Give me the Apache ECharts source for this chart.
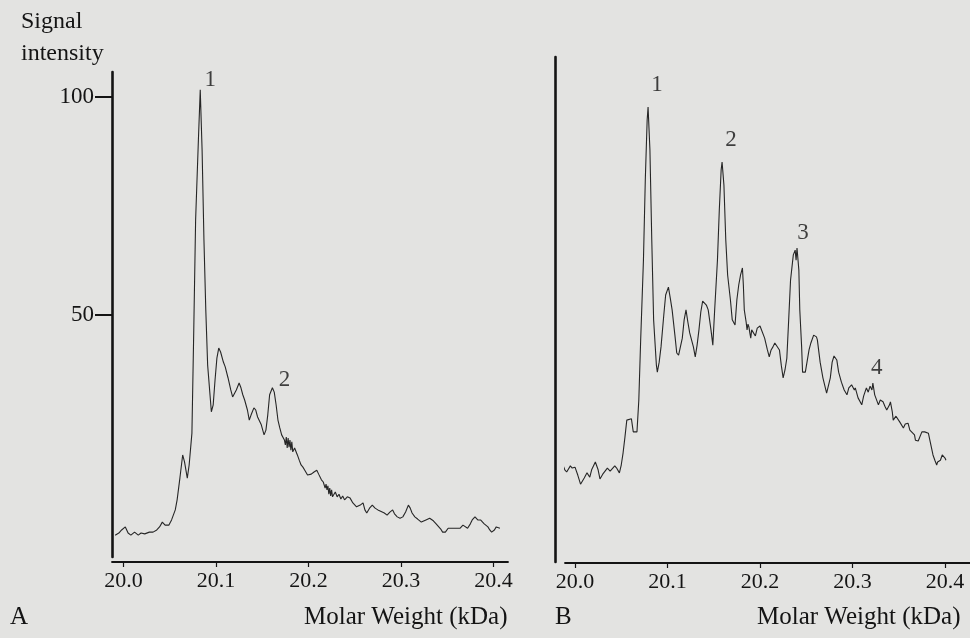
<!DOCTYPE html>
<html>
<head>
<meta charset="utf-8">
<script src="https://cdn.jsdelivr.net/npm/echarts@6/dist/echarts.min.js"></script>
<style>
html,body{margin:0;padding:0;background:#e3e3e1;}
#chart{width:970px;height:638px;}
</style>
</head>
<body>
<div id="chart"></div>
<script>
// ---------- Data ----------
const xTicks = [20.0, 20.1, 20.2, 20.3, 20.4];
const yTicksA = [50, 100];

// Panel A: molar weight (kDa) and signal intensity
const aX = [19.991,19.995,19.998,20.002,20.005,20.008,20.012,20.016,20.019,20.023,20.028,20.032,20.036,20.039,20.042,20.045,20.049,20.052,20.056,20.058,
20.061,20.064,20.066,20.069,20.071,20.074,20.076,20.078,20.081,20.083,20.085,20.087,20.089,20.091,20.094,20.095,20.097,20.099,20.101,20.103,
20.105,20.108,20.110,20.113,20.116,20.118,20.122,20.125,20.127,20.129,20.131,20.134,20.136,20.138,20.141,20.143,20.145,20.149,20.152,20.154,
20.156,20.158,20.161,20.163,20.165,20.167,20.169,20.171,20.174,20.175,20.176,20.177,20.178,20.179,20.180,20.181,20.182,20.183,20.185,20.188,
20.190,20.192,20.194,20.196,20.199,20.203,20.206,20.209,20.211,20.214,20.216,20.218,20.219,20.220,20.221,20.222,20.223,20.224,20.225,20.226,
20.229,20.231,20.233,20.235,20.237,20.239,20.242,20.245,20.248,20.250,20.252,20.256,20.259,20.261,20.263,20.266,20.269,20.272,20.275,20.278,
20.282,20.285,20.288,20.291,20.293,20.296,20.299,20.302,20.305,20.308,20.310,20.312,20.315,20.318,20.322,20.324,20.327,20.329,20.331,20.335,
20.338,20.340,20.343,20.345,20.348,20.351,20.355,20.359,20.364,20.366,20.367,20.369,20.372,20.375,20.377,20.380,20.383,20.386,20.390,20.392,
20.394,20.396,20.398,20.401,20.403,20.405,20.407];
const aY = [-0.5,0,0.7,1.4,0,-0.5,0.2,-0.5,0,-0.2,0.2,0.2,0.7,1.4,2.5,1.8,1.8,3.0,5.3,7.6,
12.6,17.9,16.3,12.6,15.6,22.9,46.6,71.8,90.1,101.6,87.8,67.2,51.1,38.5,30.5,27.8,29.4,35.1,40.1,42.4,
41.5,39.2,38.1,35.6,32.8,31.2,32.8,34.4,33.3,31.7,30.5,28.2,25.9,27.1,28.7,28.2,26.6,24.8,22.5,23.6,
27.1,31.7,33.3,32.3,29.4,25.9,24.1,22.5,21.3,20.2,22.0,19.5,21.8,19.7,21.3,19.0,20.9,18.6,19.5,17.9,
16.7,15.6,15.1,14.4,13.3,13.5,14.0,14.4,13.5,12.2,11.7,10.3,11.2,9.9,10.8,8.9,10.3,8.5,9.9,8.3,
9.4,8.3,8.9,7.8,8.5,7.6,8.3,8.0,6.9,7.1,6.0,6.4,6.9,5.3,4.6,5.7,6.4,5.7,5.3,5.0,
4.6,4.1,4.8,5.3,4.4,3.7,3.4,3.7,4.8,6.4,5.7,4.6,3.7,3.2,2.5,2.3,3.0,3.4,3.4,2.8,
2.1,1.8,0.9,0.2,0.2,1.1,1.1,1.1,1.1,1.1,1.8,1.4,1.1,2.1,3.0,3.7,3.0,3.0,2.1,1.8,
1.4,0.7,0.2,0.7,1.4,1.8,1.1];

// Panel B
const bX = [19.986,19.989,19.991,19.995,19.997,20.000,20.003,20.006,20.010,20.013,20.016,20.018,20.022,20.025,20.027,20.030,20.035,20.038,20.040,20.043,
20.045,20.048,20.050,20.052,20.054,20.056,20.061,20.063,20.067,20.069,20.071,20.074,20.076,20.078,20.079,20.081,20.083,20.085,20.088,20.089,
20.091,20.093,20.096,20.098,20.101,20.103,20.105,20.108,20.110,20.112,20.116,20.118,20.120,20.122,20.124,20.128,20.130,20.132,20.134,20.136,
20.138,20.142,20.144,20.147,20.149,20.151,20.154,20.156,20.158,20.159,20.161,20.163,20.165,20.168,20.170,20.173,20.175,20.177,20.179,20.181,
20.182,20.183,20.185,20.186,20.187,20.188,20.189,20.190,20.191,20.192,20.195,20.196,20.197,20.198,20.200,20.202,20.205,20.208,20.210,20.212,
20.214,20.216,20.218,20.221,20.223,20.225,20.227,20.229,20.231,20.233,20.236,20.238,20.239,20.240,20.242,20.243,20.245,20.246,20.249,20.251,
20.253,20.255,20.258,20.261,20.262,20.265,20.268,20.272,20.276,20.278,20.280,20.283,20.285,20.288,20.291,20.294,20.296,20.298,20.299,20.302,
20.303,20.306,20.310,20.312,20.315,20.317,20.319,20.321,20.322,20.324,20.328,20.330,20.333,20.335,20.337,20.340,20.341,20.343,20.344,20.347,
20.349,20.351,20.355,20.357,20.360,20.362,20.364,20.367,20.368,20.371,20.373,20.375,20.376,20.378,20.382,20.384,20.387,20.389,20.391,20.392,
20.395,20.397,20.398,20.400,20.401];
const bY = [16.1,14.5,14.0,15.4,14.9,15.1,13.3,11.2,12.6,13.8,12.8,14.5,16.3,14.5,12.4,13.5,14.9,14.2,14.0,15.4,
14.9,13.8,15.6,18.4,22.0,25.9,26.2,23.2,23.2,30.5,44.3,62.6,81.0,94.7,97.7,87.9,67.2,48.9,38.5,36.9,
39.2,42.7,50.0,54.6,56.4,53.9,51.2,45.4,41.3,40.8,44.7,48.9,51.2,48.4,45.9,42.7,40.4,43.1,46.6,50.7,
53.2,52.3,51.2,46.6,43.1,51.2,62.6,74.1,83.3,85.1,79.8,67.2,59.2,53.5,48.9,47.7,53.5,56.9,59.2,60.8,
56.9,51.2,48.4,46.6,47.9,47.3,45.9,44.7,46.6,46.6,45.2,45.0,47.0,46.6,47.5,47.7,44.7,42.0,40.4,42.0,
42.7,43.6,43.8,42.0,38.5,35.6,37.4,40.1,48.9,58.0,63.8,64.9,62.6,65.4,60.3,51.2,42.7,36.9,36.9,36.9,
42.0,43.6,45.4,45.0,44.3,39.2,35.6,32.1,35.6,39.2,40.6,39.7,36.9,34.6,32.8,31.7,33.3,33.5,34.0,32.8,
33.3,31.0,29.4,31.4,33.3,32.3,33.7,32.8,34.4,31.7,29.4,30.5,30.1,29.1,28.2,29.4,30.1,27.8,25.9,26.8,
27.1,25.5,24.1,25.0,25.2,23.6,23.2,22.5,21.3,21.1,21.1,23.2,23.6,23.2,22.9,20.9,17.9,16.7,15.6,16.3,
16.7,17.9,17.9,17.2,16.7];

// Peak labels
const peakNamesA = ['1', '2'];
const peakXA = [20.083, 20.161];
const peakYA = [101.6, 33.3];
const peakNamesB = ['1', '2', '3', '4'];
const peakXB = [20.079, 20.159, 20.240, 20.322];
const peakYB = [97.7, 85.1, 65.4, 34.4];

// ---------- Chart ----------
const FONT = '"Liberation Serif", "Times New Roman", serif';
const INK = '#141414';
const zip = (xs, ys) => xs.map((x, i) => [x, ys[i]]);

const offA = [[10, -10], [12, -8]];
const offB = [[9, -22], [9, -22], [6, -15], [4, -15]];
const labelData = (names, xs, ys, offs) => names.map((n, i) => ({
  name: n, value: [xs[i], ys[i]],
  label: { offset: offs[i] }
}));

const xAxisBase = (gi, min, max, offset) => ({
  gridIndex: gi, type: 'value', min: min, max: max, offset: offset,
  axisLine: { show: true, onZero: false, lineStyle: { color: INK, width: 1.8 } },
  axisTick: { show: true, length: 5, customValues: xTicks, lineStyle: { color: INK, width: 1.2 } },
  axisLabel: { show: true, customValues: xTicks, margin: 8, fontFamily: FONT, fontSize: 22, color: INK,
    formatter: v => v.toFixed(1) },
  splitLine: { show: false }
});

const chart = echarts.init(document.getElementById('chart'), null, { renderer: 'canvas' });
chart.setOption({
  backgroundColor: '#e3e3e1',
  animation: false,
  grid: [
    { left: 112, top: 72, width: 396, height: 485 },
    { left: 565, top: 57, width: 405, height: 505 }
  ],
  xAxis: [
    xAxisBase(0, 19.9876, 20.4157, 5),
    xAxisBase(1, 19.9892, 20.4270, 1)
  ],
  yAxis: [
    { gridIndex: 0, type: 'value', min: -5.5, max: 105.7,
      axisLine: { show: true, onZero: false, lineStyle: { color: INK, width: 2.6 } },
      axisTick: { show: true, length: 17, customValues: yTicksA, lineStyle: { color: INK, width: 2 } },
      axisLabel: { show: true, customValues: yTicksA, margin: 18, fontFamily: FONT, fontSize: 23, color: INK },
      splitLine: { show: false } },
    { gridIndex: 1, type: 'value', min: -6.65, max: 109.2, offset: 10,
      axisLine: { show: true, onZero: false, lineStyle: { color: INK, width: 2.6 } },
      axisTick: { show: false }, axisLabel: { show: false }, splitLine: { show: false } }
  ],
  series: [
    { type: 'line', xAxisIndex: 0, yAxisIndex: 0, data: zip(aX, aY), showSymbol: false,
      lineStyle: { color: '#262626', width: 1.1 }, silent: true },
    { type: 'line', xAxisIndex: 1, yAxisIndex: 1, data: zip(bX, bY), showSymbol: false,
      lineStyle: { color: '#262626', width: 1.1 }, silent: true },
    { type: 'scatter', xAxisIndex: 0, yAxisIndex: 0, symbolSize: 0,
      data: labelData(peakNamesA, peakXA, peakYA, offA),
      label: { show: true, position: 'inside', formatter: '{b}', fontFamily: FONT, fontSize: 23, color: INK } },
    { type: 'scatter', xAxisIndex: 1, yAxisIndex: 1, symbolSize: 0,
      data: labelData(peakNamesB, peakXB, peakYB, offB),
      label: { show: true, position: 'inside', formatter: '{b}', fontFamily: FONT, fontSize: 23, color: INK } }
  ],
  graphic: [
    { type: 'text', left: 21, top: 10, style: { text: 'Signal', font: '24px ' + FONT, fill: INK } },
    { type: 'text', left: 21, top: 42, style: { text: 'intensity', font: '24px ' + FONT, fill: INK } },
    { type: 'text', left: 10, top: 605, style: { text: 'A', font: '25px ' + FONT, fill: INK } },
    { type: 'text', left: 304, top: 605, style: { text: 'Molar Weight (kDa)', font: '25px ' + FONT, fill: INK } },
    { type: 'text', left: 555, top: 605, style: { text: 'B', font: '25px ' + FONT, fill: INK } },
    { type: 'text', left: 757, top: 605, style: { text: 'Molar Weight (kDa)', font: '25px ' + FONT, fill: INK } }
  ]
});
</script>
</body>
</html>
